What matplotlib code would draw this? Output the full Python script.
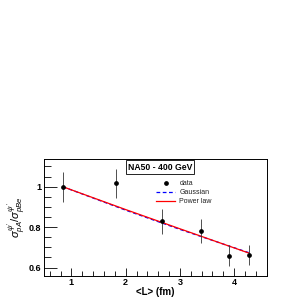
import matplotlib
matplotlib.use("Agg")
import matplotlib.pyplot as plt
from matplotlib.ticker import MultipleLocator
from matplotlib.lines import Line2D

# Data
L_data = [0.84, 1.82, 2.665, 3.39, 3.90, 4.27]
ratio_data = [1.000, 1.017, 0.830, 0.780, 0.658, 0.663]
ratio_err = [0.074, 0.072, 0.062, 0.060, 0.052, 0.051]

L_fit = [0.84, 2.0, 3.0, 4.27]
gauss_fit = [1.000, 0.884, 0.789, 0.674]
power_fit = [1.000, 0.887, 0.792, 0.672]

xticks = [1, 2, 3, 4]
yticks = [0.6, 0.8, 1.0]
yticklabels = ["0.6", "0.8", "1"]

title_text = "NA50 - 400 GeV"
legend_labels = ["data", "Gaussian", "Power law"]

plt.rcParams['font.family'] = ['Liberation Sans', 'DejaVu Sans']
plt.rcParams['mathtext.fontset'] = 'custom'
plt.rcParams['mathtext.rm'] = 'Liberation Sans'
plt.rcParams['mathtext.it'] = 'Liberation Sans:italic'
plt.rcParams['mathtext.bf'] = 'Liberation Sans:bold'

fig = plt.figure(figsize=(3, 3), dpi=100)
fig.patch.set_facecolor("white")
W = H = 300.0
x0, x1, y0, y1 = 44.3, 266.7, 159.0, 275.7
ax = fig.add_axes([x0 / W, 1 - y1 / H, (x1 - x0) / W, (y1 - y0) / H])

ax.errorbar(L_data, ratio_data, yerr=ratio_err, fmt='o', color='black',
            ms=2.4, elinewidth=0.6, ecolor='#333333', capsize=0, zorder=5)
ax.plot(L_fit, gauss_fit, color='blue', ls=(0, (3, 2)), lw=0.9, zorder=3)
ax.plot(L_fit, power_fit, color='red', ls='-', lw=0.9, zorder=4)

ax.set_xlim(0.5, 4.6)
ax.set_ylim(0.56, 1.137)

ax.set_xticks(xticks)
ax.set_xticklabels([str(v) for v in xticks])
ax.set_yticks(yticks)
ax.set_yticklabels(yticklabels)
ax.xaxis.set_minor_locator(MultipleLocator(0.2))
ax.yaxis.set_minor_locator(MultipleLocator(0.05))
ax.tick_params(which='both', direction='in', top=False, right=False, width=0.6,
               labelsize=6.5, colors='black')
ax.tick_params(which='major', length=9, pad=2)
ax.tick_params(which='minor', length=5)
ax.tick_params(axis='x', which='major', length=6)
ax.tick_params(axis='x', which='minor', length=3.5)
for lab in ax.get_xticklabels() + ax.get_yticklabels():
    lab.set_fontweight('bold')
for s in ax.spines.values():
    s.set_linewidth(0.7)

ax.set_xlabel("<L> (fm)", fontsize=7, fontweight='bold', labelpad=0)
ax.set_ylabel(r"$\sigma^{\psi'}_{pA}/\sigma^{\psi'}_{pBe}$", fontsize=8, labelpad=1)

fig.text(160 / W, 1 - 167 / H, title_text, fontsize=6.2, fontweight='bold',
         ha='center', va='center',
         bbox=dict(boxstyle='square,pad=0.25', fc='white', ec='black', lw=0.6))

handles = [
    Line2D([], [], ls='none', marker='o', ms=2.4, color='black'),
    Line2D([], [], color='blue', ls=(0, (3, 2)), lw=0.9),
    Line2D([], [], color='red', ls='-', lw=0.9),
]
leg = ax.legend(handles, legend_labels, loc='upper left',
                bbox_to_anchor=((151 - x0) / (x1 - x0), 1 - (175.5 - y0) / (y1 - y0)),
                fontsize=5, frameon=False, handlelength=2.8, handletextpad=0.6,
                labelspacing=0.28, borderpad=0.2, numpoints=1)
for t in leg.get_texts():
    t.set_color('#222222')

fig.savefig("out.png", dpi=100, facecolor='white')
